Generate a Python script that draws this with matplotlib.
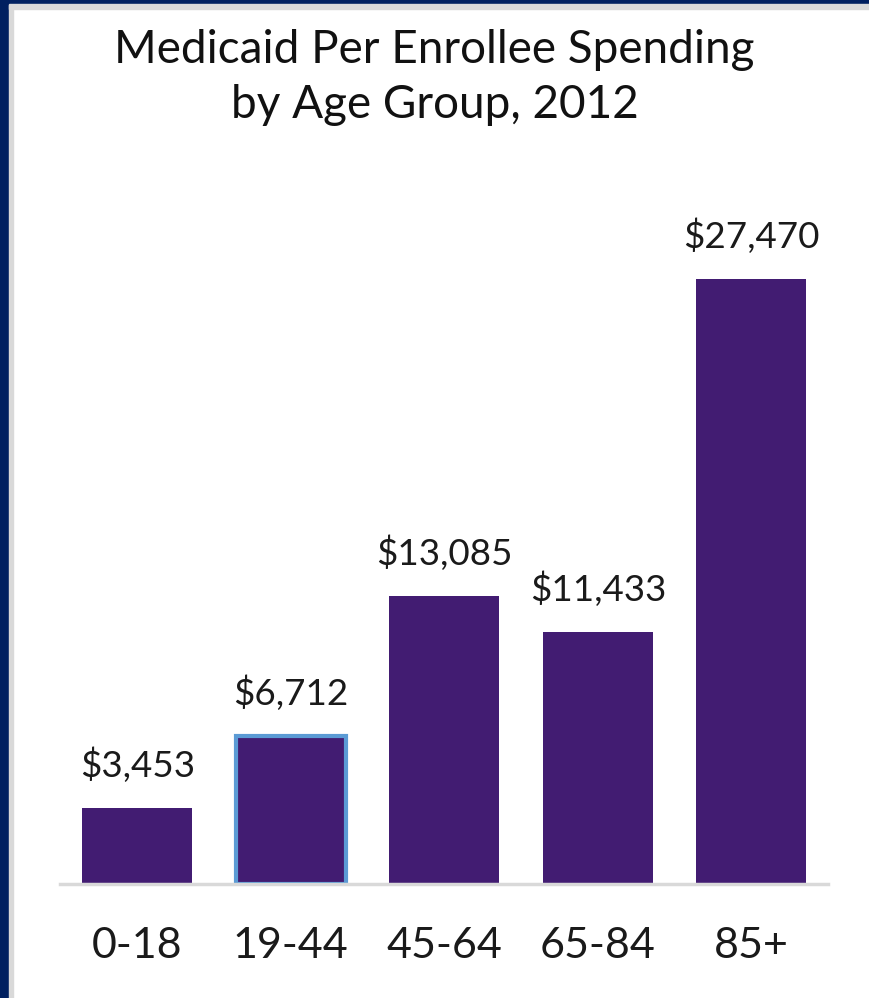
import matplotlib.pyplot as plt
from matplotlib.patches import Rectangle

# age groups and per enrollee spending (dollars)
age_groups = ['0-18', '19-44', '45-64', '65-84', '85+']
spending = [3453, 6712, 13085, 11433, 27470]

bar_color = '#421C72'
navy = '#002060'

plt.rcParams['font.family'] = ['Lato', 'DejaVu Sans']

fig = plt.figure(figsize=(8.69, 9.98), dpi=100)

# frame on the left and top edge
fig.patches.append(Rectangle((0, 0), 0.0105, 1, transform=fig.transFigure, color=navy, zorder=0))
fig.patches.append(Rectangle((0.0105, 0), 0.0045, 0.996, transform=fig.transFigure, color='#D9D9D9', zorder=0))
fig.patches.append(Rectangle((0, 0.996), 1, 0.004, transform=fig.transFigure, color=navy, zorder=0))
fig.patches.append(Rectangle((0.0105, 0.991), 1, 0.005, transform=fig.transFigure, color='#D9D9D9', zorder=0))

ax = fig.add_axes([0.0695, 0.1142, 0.8835, 0.662])
x = range(len(age_groups))
bars = ax.bar(x, spending, width=0.715, color=bar_color, zorder=2)
bars[1].set_edgecolor('#5B9BD5')
bars[1].set_linewidth(3)

for xi, v in zip(x, spending):
    ax.text(xi, v + 1400, '${:,}'.format(v), ha='center', va='baseline', fontsize=26.5, color='#1a1a1a')

ax.set_xlim(-0.5, 4.5)
ax.set_ylim(0, 30000)
ax.set_xticks(list(x))
ax.set_xticklabels(age_groups, fontsize=31, color='#1a1a1a')
ax.tick_params(axis='x', length=0, pad=31)
ax.set_yticks([])
for s in ['top', 'right', 'left']:
    ax.spines[s].set_visible(False)
ax.spines['bottom'].set_color('#D9D9D9')
ax.spines['bottom'].set_linewidth(2.5)

fig.text(0.5, 0.922, 'Medicaid Per Enrollee Spending\nby Age Group, 2012', ha='center', va='center',
         fontsize=33, color='#111111', linespacing=1.38)

fig.savefig('out.png', dpi=100)
